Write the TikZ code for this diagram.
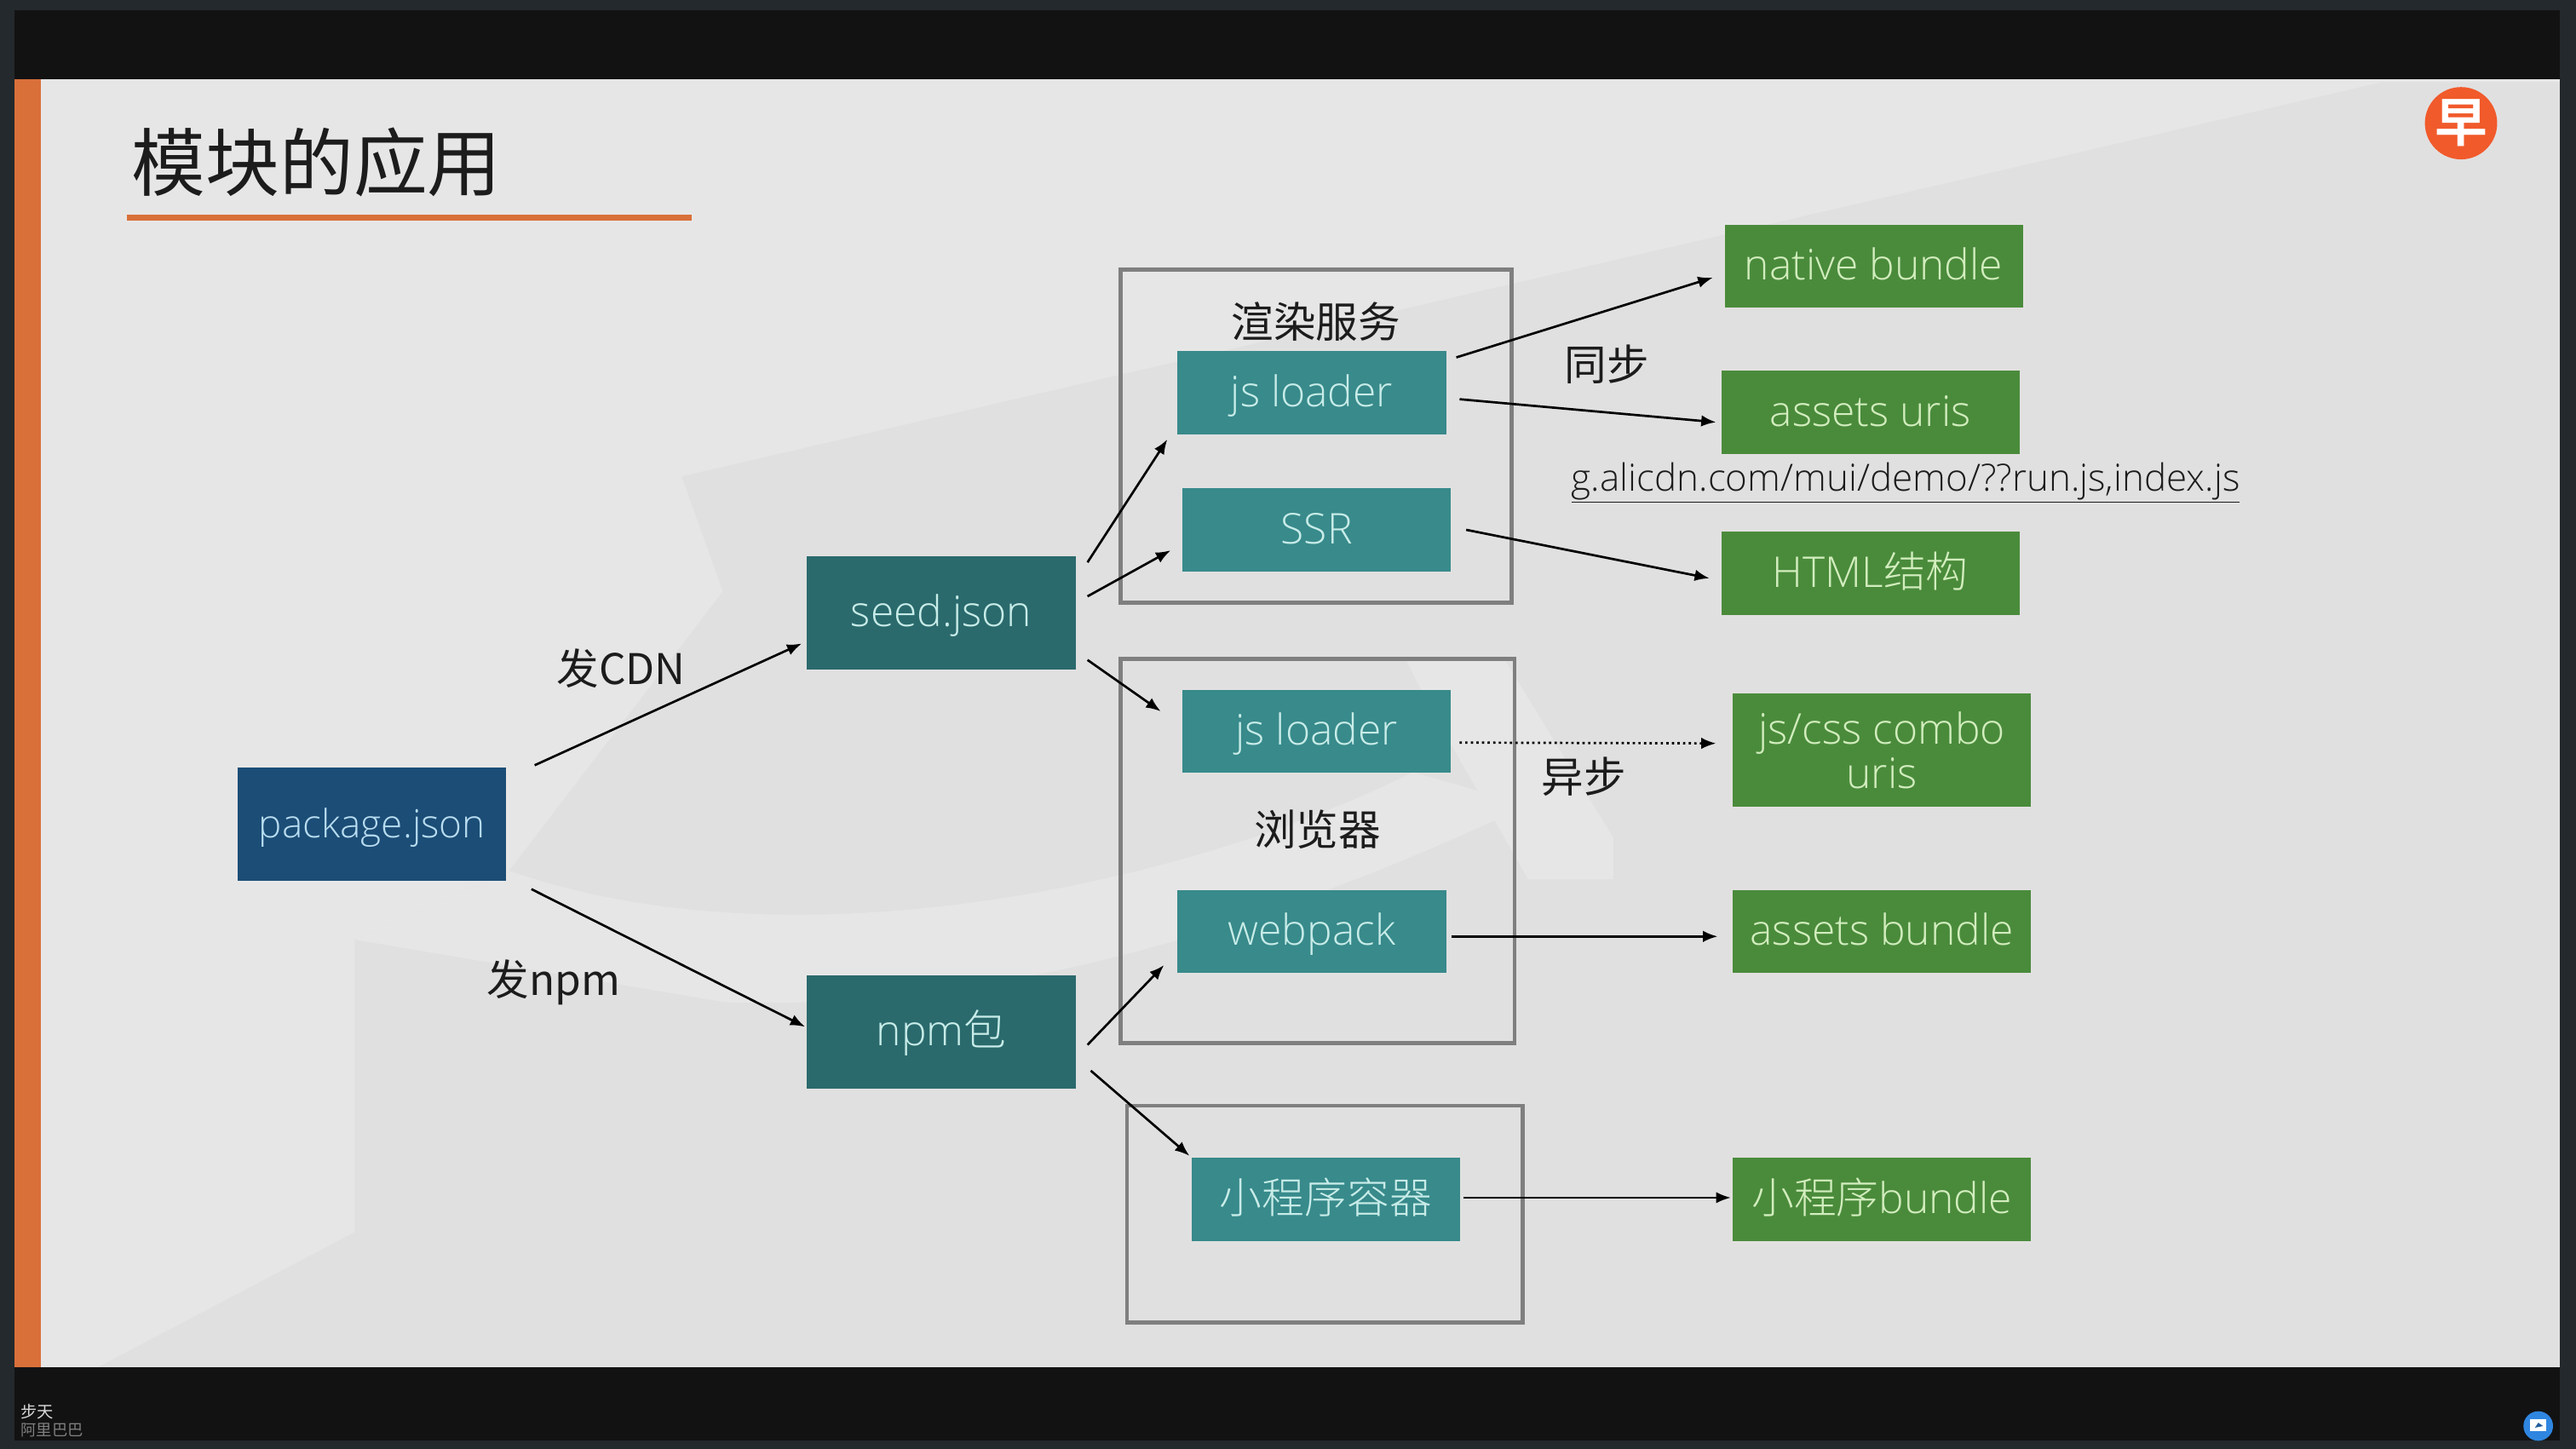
\documentclass[tikz,border=0pt]{standalone}
\usepackage{fontspec}
\setmainfont{Open Sans Light}
\newfontfamily\cjk{Noto Sans CJK SC Light}
\newfontfamily\cjkreg{Noto Sans CJK SC}
\newfontfamily\cjkbold{Noto Sans CJK SC Bold}
\usepackage{xcolor}
\usetikzlibrary{arrows.meta,positioning}
\definecolor{framedark}{HTML}{24292D}
\definecolor{barblack}{HTML}{121213}
\definecolor{slidegray}{HTML}{E7E6E6}
\definecolor{markgray}{HTML}{E1E0E0}
\definecolor{accentorange}{HTML}{D9703A}
\definecolor{badgeorange}{HTML}{F15A2B}
\definecolor{pkgblue}{HTML}{1B4D76}
\definecolor{seedteal}{HTML}{2A6A6D}
\definecolor{loaderteal}{HTML}{388A8B}
\definecolor{bundlegreen}{HTML}{4A8B3B}
\definecolor{boxgray}{HTML}{7F7F7F}
\definecolor{inkgray}{HTML}{1C1C1C}
\definecolor{sharedblue}{HTML}{2F86E0}
\definecolor{tintblue}{HTML}{B8DCF0}
\definecolor{tintteal}{HTML}{C8ECE8}
\definecolor{tintgreen}{HTML}{D2EDBE}
\tikzset{
  flownode/.style={minimum width=163.5pt,minimum height=50.5pt,inner sep=0pt,align=center,text height=18pt,text depth=1pt,font=\fontsize{25.8}{27}\selectfont},
  pkgnode/.style={flownode,fill=pkgblue,text=tintblue,minimum height=69pt,font=\fontsize{23.8}{27}\selectfont},
  seednode/.style={flownode,fill=seedteal,text=tintteal,minimum height=69pt},
  loadernode/.style={flownode,fill=loaderteal,text=tintteal},
  bundlenode/.style={flownode,fill=bundlegreen,text=tintgreen,minimum width=181.5pt},
  groupbox/.style={draw=boxgray,line width=2.4pt,fill=none,inner sep=0pt},
  flowarrow/.style={-{Latex[length=9pt,width=7pt]},draw=black,line width=1.4pt},
  notetext/.style={text=inkgray,font=\fontsize{25.7}{30}\selectfont\cjkreg},
}
\begin{document}
\begin{tikzpicture}[x=1pt,y=-1pt]
  \useasboundingbox (0,0) rectangle (1568,882);
  % screen and slide
  \fill[framedark] (0,0) rectangle (1568,882);
  \fill[barblack] (9,6) rectangle (1558,877);
  \fill[slidegray] (9,48) rectangle (1558,832);
  \fill[markgray] (415,290) -- (1450,50) -- (1558,50) -- (1558,832) -- (60,832) -- (216,750) -- (216,572) -- (310,530) -- (440,360) -- cycle;
  \fill[slidegray] (216,572) -- (441,610) .. controls (600,615) and (760,570) .. (930,490) -- (860,470) .. controls (720,540) and (480,590) .. (310,530) -- cycle;
  \fill[slidegray] (855,400) -- (915,400) -- (982,510) -- (982,535) -- (930,535) -- (870,430) -- cycle;
  \fill[accentorange] (9,48) rectangle (25,832);
  \node[text=inkgray,font=\fontsize{45}{50}\selectfont\cjkreg,anchor=west,inner sep=0pt] (title) at (80,99) {模块的应用};
  \draw[accentorange,line width=3.5pt] (77,132.5) -- (421,132.5);
  \node[circle,fill=badgeorange,text=white,minimum size=44pt,inner sep=0pt,font=\fontsize{32}{32}\selectfont\cjkbold] (badge) at (1498,75) {早};
  % groups
  \node[groupbox,minimum width=238pt,minimum height=203pt] (render) at (801,265.5) {};
  \node[groupbox,minimum width=240pt,minimum height=234pt] (browser) at (802,518) {};
  \node[groupbox,minimum width=241pt,minimum height=132pt] (miniapp) at (806.5,739) {};
  % left side
  \node[pkgnode] (pkg) at (226.5,501.5) {package.json};
  \node[seednode] (seed) at (573,373) {seed.json};
  \node[seednode] (npm) at (573,628) {npm{\cjk 包}};
  % services
  \node[loadernode] (jsa) at (798.5,239) {js loader};
  \node[loadernode] (ssr) at (801.5,322.5) {SSR};
  \node[loadernode] (jsb) at (801.5,445) {js loader};
  \node[loadernode] (webpack) at (798.5,567) {webpack};
  \node[loadernode,font=\fontsize{25.8}{30}\selectfont\cjk] (mini) at (807,730) {小程序容器};
  % outputs
  \node[bundlenode] (native) at (1140.5,162) {native bundle};
  \node[bundlenode] (uris) at (1138.5,251) {assets uris};
  \node[bundlenode] (html) at (1138.5,349) {HTML{\cjk 结构}};
  \node[bundlenode,minimum height=69pt,text height=,text depth=] (combo) at (1145.5,456.5) {js/css combo\\uris};
  \node[bundlenode] (bundle) at (1145.5,567) {assets bundle};
  \node[bundlenode] (minib) at (1145.5,730) {{\cjk 小程序}bundle};
  % labels
  \node[notetext] (cdn) at (378,407) {发CDN};
  \node[notetext] (pub) at (337,598) {发npm};
  \node[notetext] (rendert) at (801,196) {渲染服务};
  \node[notetext] (browsert) at (802,505) {浏览器};
  \node[notetext] (sync) at (978,222) {同步};
  \node[notetext] (async) at (964,473) {异步};
  \node[text=inkgray,font=\fontsize{22.8}{27}\selectfont,inner sep=2pt] (url) at (1160,294) {\underline{g.alicdn.com/mui/demo/??run.js,index.js}};
  % arrows
  \draw[flowarrow] ([shift={(17,-1)}]pkg.north east) -- ([shift={(-3,-16)}]seed.south west);
  \draw[flowarrow] ([shift={(15,5)}]pkg.south east) -- ([shift={(-1,-3)}]npm.west);
  \draw[flowarrow] ([shift={(7,4)}]seed.north east) -- ([shift={(-6,3)}]jsa.south west);
  \draw[flowarrow] ([shift={(7,-10)}]seed.east) -- ([shift={(-7,12.5)}]ssr.west);
  \draw[flowarrow] ([shift={(7,-6)}]seed.south east) -- ([shift={(-13,-12)}]jsb.west);
  \draw[flowarrow] ([shift={(7,8)}]npm.east) -- ([shift={(-8,-5)}]webpack.south west);
  \draw[flowarrow] ([shift={(9,-11)}]npm.south east) -- ([shift={(-1,-1)}]mini.north west);
  \draw[flowarrow] ([shift={(6,4)}]jsa.north east) -- ([shift={(-7,7)}]native.west);
  \draw[flowarrow] ([shift={(8,4)}]jsa.east) -- ([shift={(-3,6)}]uris.west);
  \draw[flowarrow] ([shift={(9,0)}]ssr.east) -- ([shift={(-7,3)}]html.west);
  \draw[flowarrow,dotted] ([shift={(5,7)}]jsb.east) -- ([shift={(-10,-4)}]combo.west);
  \draw[flowarrow] ([shift={(3,3)}]webpack.east) -- ([shift={(-9,3)}]bundle.west);
  \draw[flowarrow] ([shift={(2,-1)}]mini.east) -- ([shift={(-1,-1)}]minib.west);
  % speaker and share icon
  \node[text=white!85!black,font=\fontsize{10}{10}\selectfont\cjkreg,anchor=west,inner sep=0pt] (speaker) at (12.5,859) {步天};
  \node[text=white!50!black,font=\fontsize{9.5}{10}\selectfont\cjkreg,anchor=west,inner sep=0pt] (company) at (12.5,870.5) {阿里巴巴};
  \node[circle,fill=sharedblue,minimum size=18pt,inner sep=0pt] (share) at (1545,868) {};
  \fill[white] (1540,864) rectangle (1550,871);
  \fill[sharedblue!70!black] (1543,869) -- (1545,866) -- (1548,868) -- cycle;
\end{tikzpicture}
\end{document}
